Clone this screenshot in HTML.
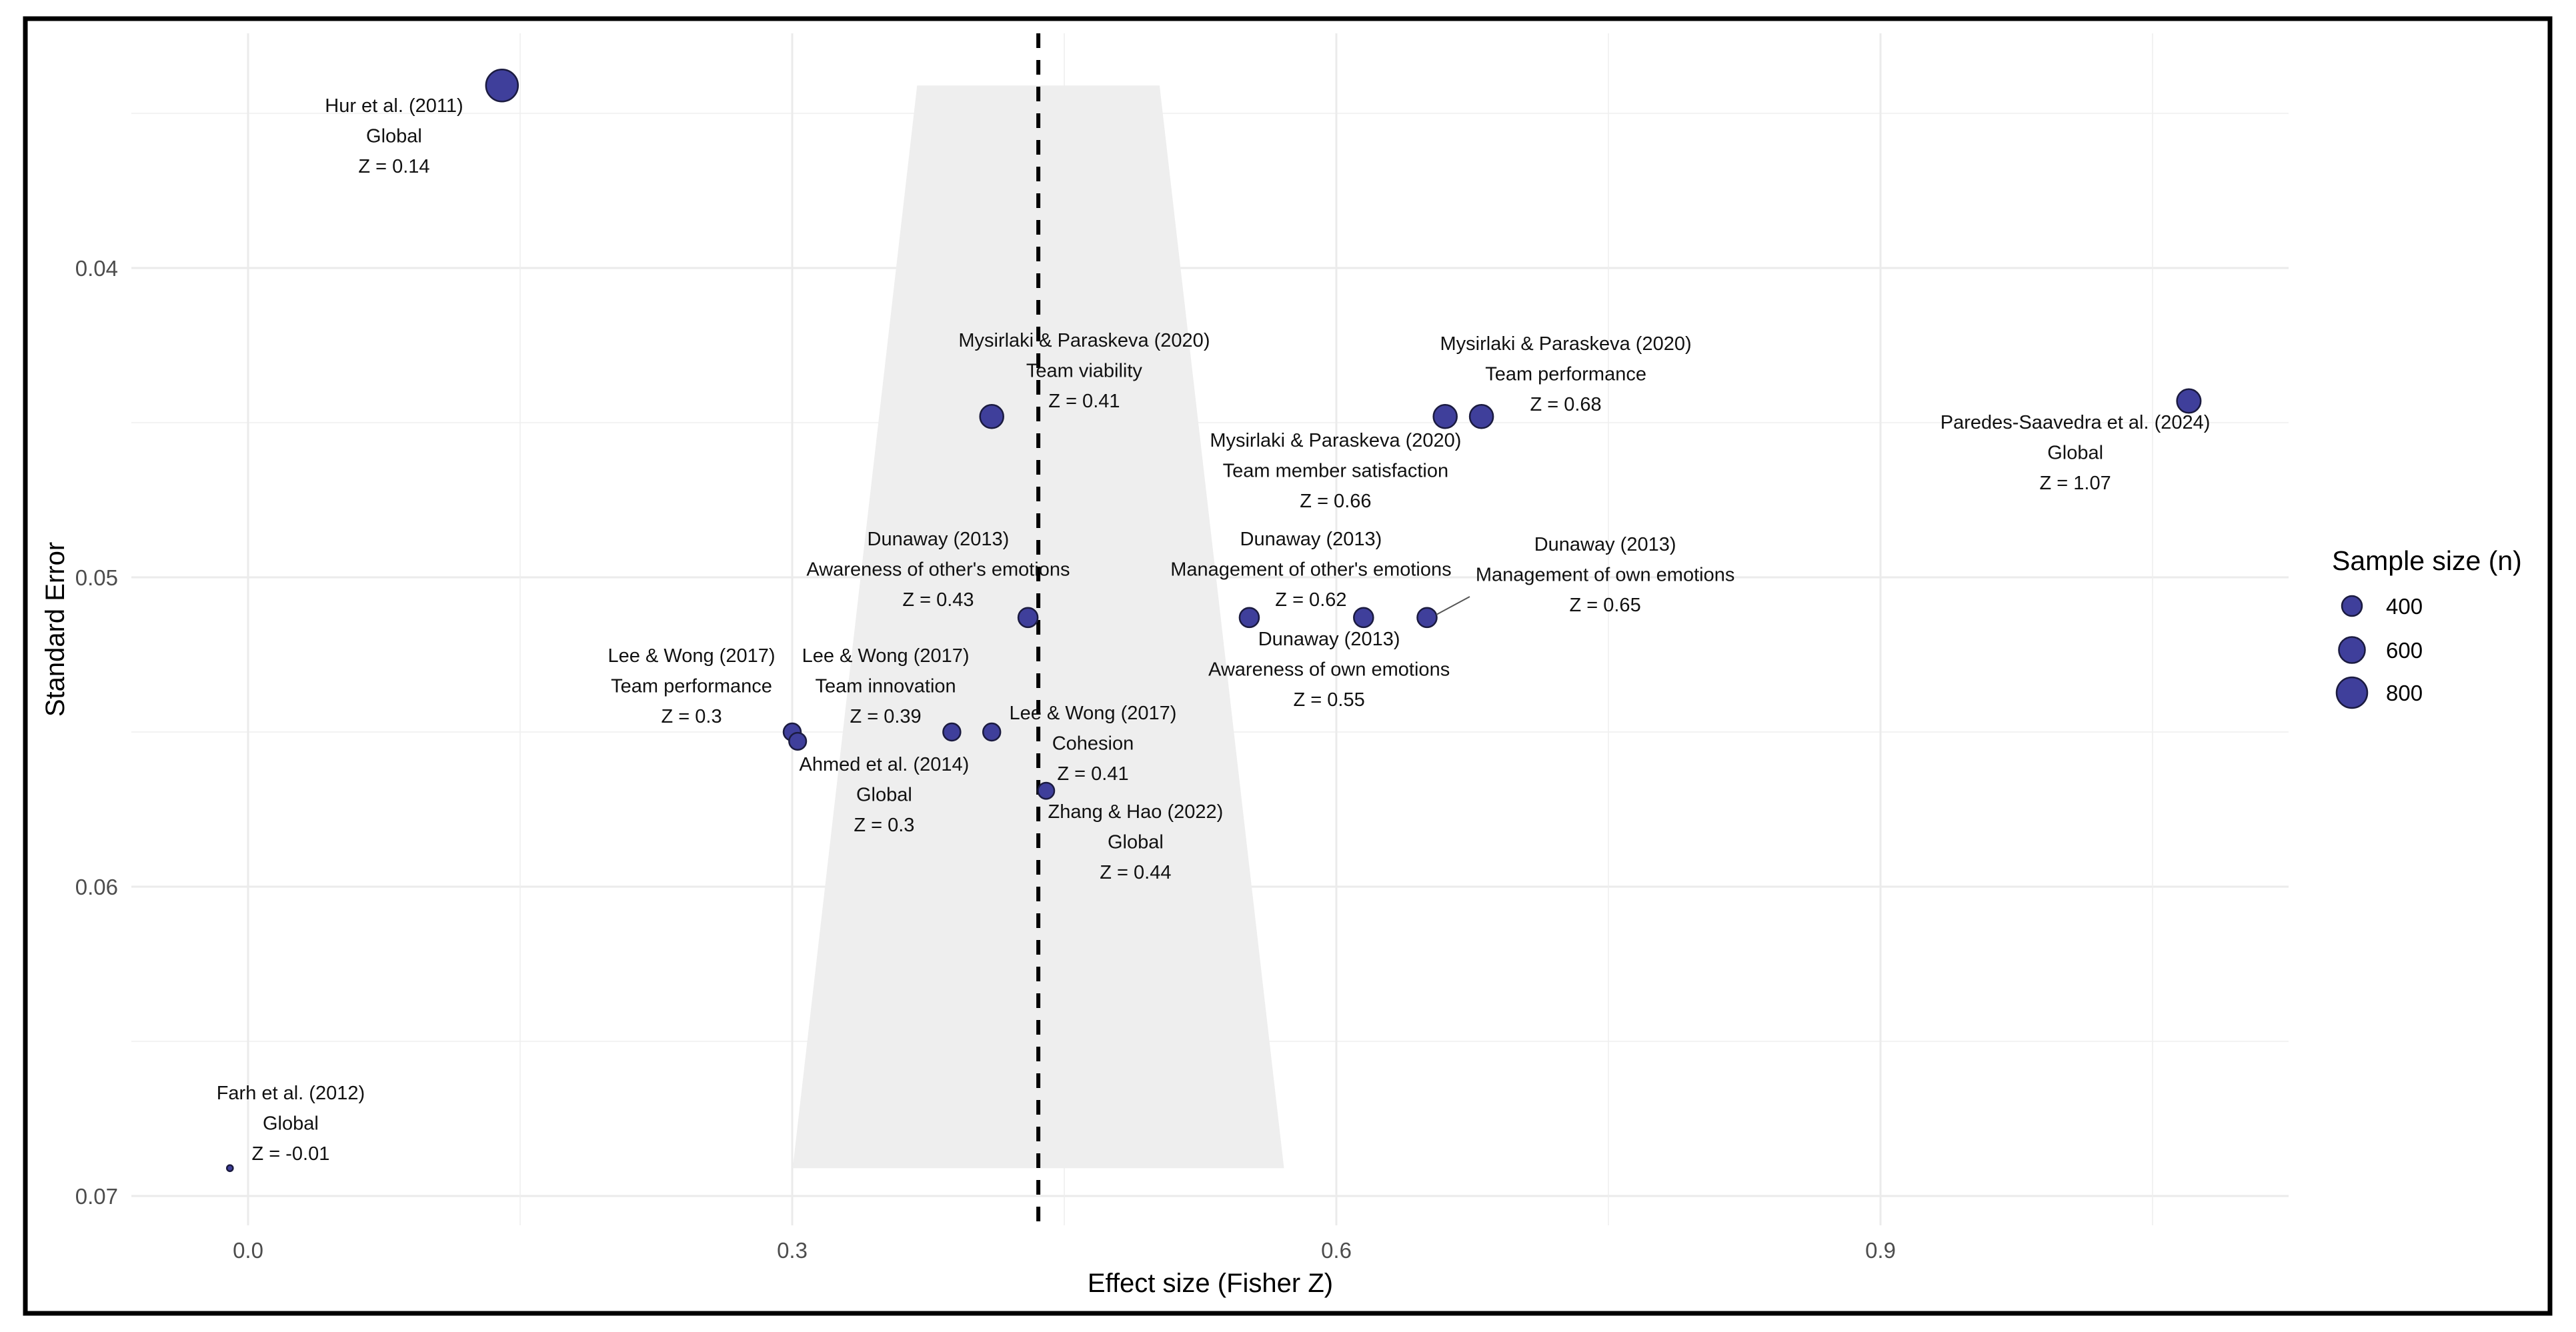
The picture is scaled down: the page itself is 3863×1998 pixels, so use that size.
<!DOCTYPE html>
<html><head><meta charset="utf-8">
<style>
html,body{margin:0;padding:0;background:#fff;}
svg{display:block;font-family:"Liberation Sans",Arial,sans-serif;}
</style></head>
<body>
<svg id="chart" width="3863" height="1998" viewBox="0 0 3863 1998" xmlns="http://www.w3.org/2000/svg">
<rect x="0" y="0" width="3863" height="1998" fill="#fff"/>
<g id="grid"></g>
<g id="funnel"></g>
<g id="pointsG"></g>
<g id="labelsG"></g>
<g id="axes"></g>
<g id="legend"></g>
<rect x="38" y="28" width="3786" height="1942" fill="none" stroke="#000" stroke-width="7"/>
</svg>
<script>
const studies = ["Hur et al. (2011)","Farh et al. (2012)","Mysirlaki & Paraskeva (2020)","Mysirlaki & Paraskeva (2020)","Mysirlaki & Paraskeva (2020)","Paredes-Saavedra et al. (2024)","Dunaway (2013)","Dunaway (2013)","Dunaway (2013)","Dunaway (2013)","Lee & Wong (2017)","Lee & Wong (2017)","Lee & Wong (2017)","Ahmed et al. (2014)","Zhang & Hao (2022)"];
const outcomes = ["Global","Global","Team viability","Team performance","Team member satisfaction","Global","Awareness of other's emotions","Management of other's emotions","Management of own emotions","Awareness of own emotions","Team performance","Team innovation","Cohesion","Global","Global"];
const zValues = [0.14,-0.01,0.41,0.68,0.66,1.07,0.43,0.615,0.65,0.552,0.30,0.388,0.41,0.303,0.44];
const seValues = [0.0341,0.0691,0.0448,0.0448,0.0448,0.0443,0.0513,0.0513,0.0513,0.0513,0.0550,0.0550,0.0550,0.0553,0.0569];
const sampleN = [863,212,501,501,501,513,383,383,383,383,334,334,334,330,312];
const zLabels = ["0.14","-0.01","0.41","0.68","0.66","1.07","0.43","0.62","0.65","0.55","0.3","0.39","0.41","0.3","0.44"];
// label positions (center of first line) in data units
const labelZ = [0.0805,0.0235,0.461,0.7265,0.5996,1.0074,0.3805,0.586,0.7482,0.596,0.2445,0.3515,0.4658,0.3507,0.4893];
const labelSE = [0.03474,0.06666,0.04233,0.04244,0.04556,0.04498,0.04875,0.04875,0.04892,0.05198,0.05252,0.05252,0.05438,0.05603,0.05756];
const summaryZ = 0.4357;
const xTicks = [0.0,0.3,0.6,0.9];
const xTickLabels = ["0.0","0.3","0.6","0.9"];
const yTicks = [0.04,0.05,0.06,0.07];
const yTickLabels = ["0.04","0.05","0.06","0.07"];
const legendN = [400,600,800];

const NS="http://www.w3.org/2000/svg";
const P={l:197,r:3432,t:50,b:1838};
function xs(z){return 372+2720*z;}
function ys(se){return 402+(se-0.04)*46400;}
const nMin=Math.min(...sampleN), nMax=Math.max(...sampleN);
function rs(n){const t=Math.max(0,(n-nMin)/(nMax-nMin));return 0.7+3.88*(1+5*Math.sqrt(t));}
function mk(tag,attrs,parent){const e=document.createElementNS(NS,tag);for(const k in attrs)e.setAttribute(k,attrs[k]);parent.appendChild(e);return e;}

const grid=document.getElementById('grid');
for(let v=0.035;v<=0.0751;v+=0.01){
  const l=mk('line',{x1:P.l,x2:P.r,y1:ys(v),y2:ys(v),stroke:'#efefef','stroke-width':1.6},grid);
  
  
}
yTicks.forEach(v=>{
  const l=mk('line',{x1:P.l,x2:P.r,y1:ys(v),y2:ys(v),stroke:'#ebebeb','stroke-width':3},grid);
  
  
});
for(let v=0.15;v<1.1;v+=0.3){
  const l=mk('line',{x1:xs(v),x2:xs(v),y1:P.t,y2:P.b,stroke:'#efefef','stroke-width':1.6},grid);
  
  
}
xTicks.forEach(v=>{
  const l=mk('line',{x1:xs(v),x2:xs(v),y1:P.t,y2:P.b,stroke:'#ebebeb','stroke-width':3},grid);
  
  
});

const seMin=Math.min(...seValues), seMax=Math.max(...seValues);
const fz=document.getElementById('funnel');
const poly=mk('polygon',{points:[[xs(summaryZ-1.96*seMin),ys(seMin)],[xs(summaryZ+1.96*seMin),ys(seMin)],[xs(summaryZ+1.96*seMax),ys(seMax)],[xs(summaryZ-1.96*seMax),ys(seMax)]].map(p=>p.join(',')).join(' '),fill:'#eeeeee'},fz);


const dl=mk('line',{x1:xs(summaryZ),x2:xs(summaryZ),y1:P.t,y2:P.b,stroke:'#000','stroke-width':6,'stroke-dasharray':'22 18'},fz);



const pg=document.getElementById('pointsG');
const lg=document.getElementById('labelsG');
const seg=mk('line',{x1:2154,y1:922,x2:2204,y2:895,stroke:'#555','stroke-width':2},lg);


studies.forEach((s,i)=>{
  const c=mk('circle',{cx:xs(zValues[i]),cy:ys(seValues[i]),r:rs(sampleN[i]),fill:'#3f3f9b',stroke:'#1b1b40','stroke-width':2.5},pg);
  
  
  const cx=xs(labelZ[i]);
  const cy=ys(labelSE[i])+10;
  const t=mk('text',{x:cx,y:cy,'text-anchor':'middle','font-size':29,fill:'#111'},lg);
  
  
  [s,outcomes[i],'Z = '+zLabels[i]].forEach((line,k)=>{
    const ts=mk('tspan',{x:cx,y:cy+k*45.5},t);ts.textContent=line;
  });
});

const ax=document.getElementById('axes');
xTicks.forEach((v,i)=>{
  const t=mk('text',{x:xs(v),y:1887,'text-anchor':'middle','font-size':33,fill:'#4d4d4d'},ax);
  t.textContent=xTickLabels[i];
  
  
});
yTicks.forEach((v,i)=>{
  const t=mk('text',{x:177,y:ys(v)+12,'text-anchor':'end','font-size':33,fill:'#4d4d4d'},ax);
  t.textContent=yTickLabels[i];
  
  
});
const xt=mk('text',{x:1815,y:1938,'text-anchor':'middle','font-size':40,fill:'#000'},ax);
xt.textContent='Effect size (Fisher Z)';


const yt=mk('text',{x:0,y:0,'text-anchor':'middle','font-size':40,fill:'#000',transform:'translate(96,944) rotate(-90)'},ax);
yt.textContent='Standard Error';



const L=document.getElementById('legend');
const lt=mk('text',{x:3497,y:855,'font-size':41,fill:'#000'},L);
lt.textContent='Sample size (n)';


const legY=[909,975,1039];
legendN.forEach((n,i)=>{
  const c=mk('circle',{cx:3527,cy:legY[i],r:rs(n),fill:'#3f3f9b',stroke:'#1b1b40','stroke-width':2.5},L);
  
  
  const t=mk('text',{x:3578,y:legY[i]+12,'font-size':33,fill:'#000'},L);
  t.textContent=String(n);
  
  
});
</script>
</body></html>
